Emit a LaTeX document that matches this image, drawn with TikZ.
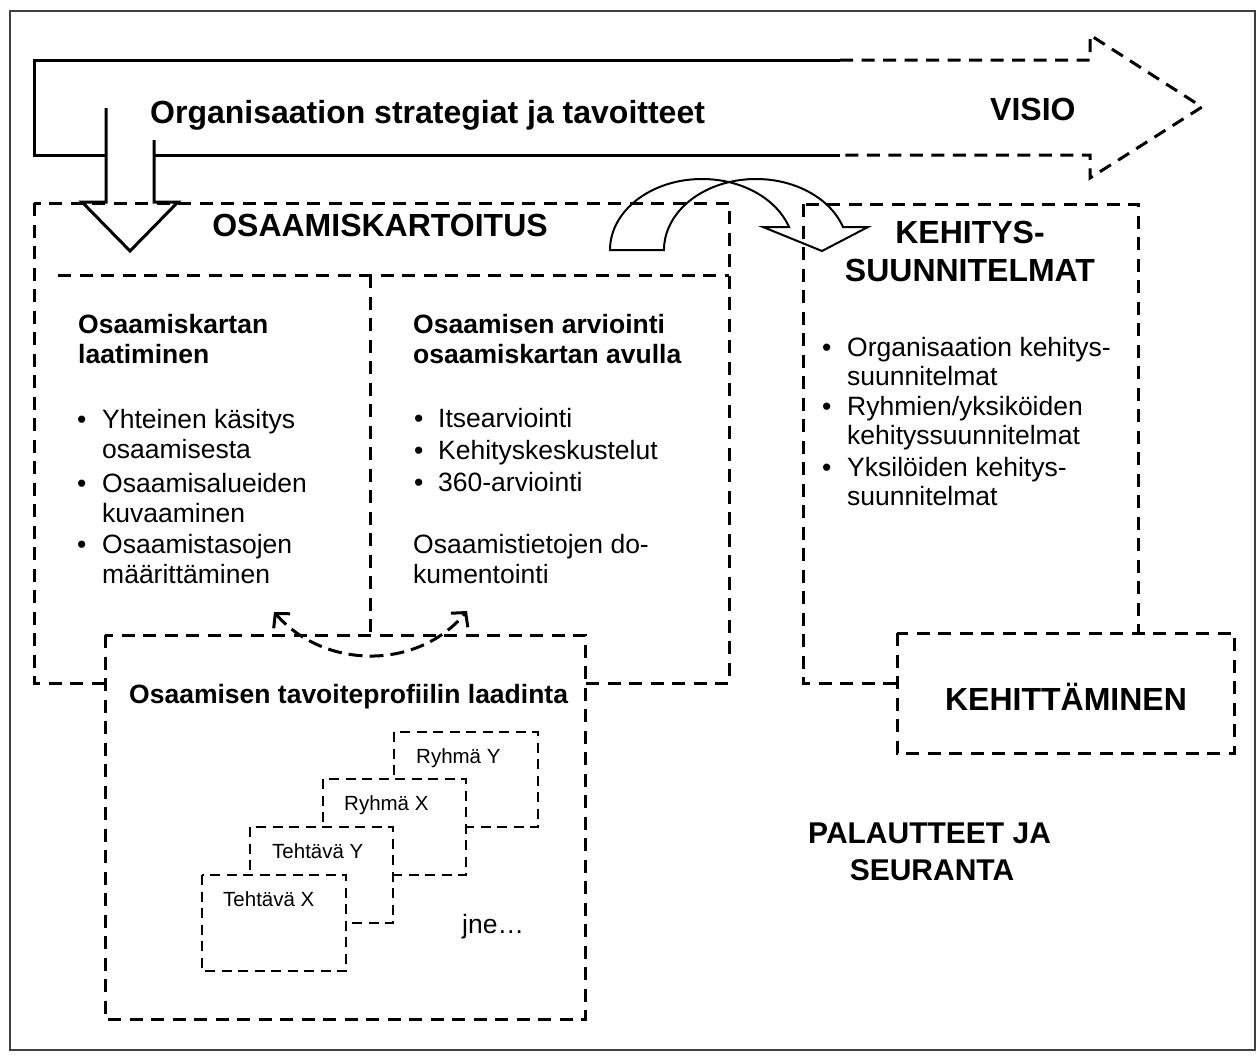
\documentclass[tikz,border=0pt]{standalone}
\usepackage{fontspec}
\setmainfont{Liberation Sans}
\usetikzlibrary{arrows.meta}
\tikzset{
 dbox/.style={draw=black, line width=3pt, dash pattern=on 13pt off 8.5pt},
 sbox/.style={draw=black, line width=2pt, dash pattern=on 10pt off 6.5pt, fill=white},
 solidline/.style={line width=3pt, line join=miter},
 txt/.style={inner sep=0pt, anchor=base west, font=\fontsize{26.5}{30}\selectfont},
 btxt/.style={inner sep=0pt, anchor=base west, font=\bfseries\fontsize{26.5}{30}\selectfont},
 big/.style={inner sep=0pt, anchor=base, font=\bfseries\fontsize{32}{36}\selectfont},
 smalltxt/.style={inner sep=0pt, anchor=base west, font=\fontsize{20.5}{24}\selectfont},
 barb/.tip={Straight Barb[length=10pt,width=22pt,line width=3pt]}
}
\begin{document}
\begin{tikzpicture}[x=1pt,y=-1pt]
\useasboundingbox (0,0) rectangle (1258,1061);
\draw[line width=1.5pt, black!75] (10,11) rectangle (1255,1050);
% big arrow
\draw[solidline] (840,60) -- (34,60) -- (34,155) -- (106,155) (154,155) -- (840,155);
\draw[dbox, line join=miter] (840,60) -- (1090,60) -- (1090,35) -- (1202,107) -- (1090,178) -- (1090,155) -- (840,155);
\node[big, anchor=base west] (strat) at (150,123) {Organisaation strategiat ja tavoitteet};
\node[big, anchor=base west] (visio) at (990,120) {VISIO};
% osaamiskartoitus box
\draw[dbox] (34,203) rectangle (729,683);
\draw[dbox] (58,275) -- (729,275);
\draw[dbox] (370,275) -- (370,635);
% down arrow
\draw[solidline] (106,108) -- (106,202) -- (82,202) -- (130,251) -- (178,202) -- (154,202) -- (154,140);
\node[big] (osk) at (380,236) {OSAAMISKARTOITUS};
% kehitys box
\draw[dbox] (803,204) rectangle (1138,683);
\draw[dbox, fill=white] (897,633) rectangle (1234,753);
\node[big] (keh1) at (970,243) {KEHITYS-};
\node[big] (keh2) at (970,281) {SUUNNITELMAT};
\node[big] (kehm) at (1066,710) {KEHITTÄMINEN};
% curved arrow
\draw[line width=2pt, line join=miter] (610,250) arc[start angle=180, end angle=341.1, x radius=92, y radius=71] -- (763,227) -- (822,251) -- (868,227) -- (843,227) arc[start angle=341.1, end angle=180, x radius=92, y radius=71] -- cycle;
% bottom box
\draw[dbox, fill=white] (105,635) rectangle (585,1019);
\node[btxt] (tav) at (129,703) {Osaamisen tavoiteprofiilin laadinta};
\draw[sbox] (394,732) rectangle (538,827);
\node[smalltxt] (ry) at (416,763) {Ryhmä Y};
\draw[sbox] (323,779) rectangle (466,875);
\node[smalltxt] (rx) at (344,810) {Ryhmä X};
\draw[sbox] (250,827) rectangle (393,923);
\node[smalltxt] (ty) at (272,858) {Tehtävä Y};
\draw[sbox] (202,875) rectangle (346,971);
\node[smalltxt] (tx) at (223,906) {Tehtävä X};
\node[txt] (jne) at (462,933) {jne…};
% small double arrow
\coordinate (la) at (274,612);
\coordinate (ra) at (467,611);
\draw[line width=3pt, dash pattern=on 14pt off 7pt, barb-barb] (la) .. controls (325,670) and (418,670) .. (ra);
% left column
\node[btxt] (l1) at (78,333) {Osaamiskartan};
\node[btxt] (l2) at (78,363) {laatiminen};
\node[txt] (lb1) at (77,428) {•};
\node[txt] (l3) at (102,428) {Yhteinen käsitys};
\node[txt] (l4) at (102,458) {osaamisesta};
\node[txt] (lb2) at (77,492) {•};
\node[txt] (l5) at (102,492) {Osaamisalueiden};
\node[txt] (l6) at (102,522) {kuvaaminen};
\node[txt] (lb3) at (77,553) {•};
\node[txt] (l7) at (102,553) {Osaamistasojen};
\node[txt] (l8) at (102,583) {määrittäminen};
% middle column
\node[btxt] (m1) at (413,333) {Osaamisen arviointi};
\node[btxt] (m2) at (413,363) {osaamiskartan avulla};
\node[txt] (mb1) at (414,427) {•};
\node[txt] (m3) at (438,427) {Itsearviointi};
\node[txt] (mb2) at (414,459) {•};
\node[txt] (m4) at (438,459) {Kehityskeskustelut};
\node[txt] (mb3) at (414,491) {•};
\node[txt] (m5) at (438,491) {360-arviointi};
\node[txt] (m6) at (413,553) {Osaamistietojen do-};
\node[txt] (m7) at (413,583) {kumentointi};
% right column
\node[txt] (rb1) at (822,356) {•};
\node[txt] (r1) at (847,356) {Organisaation kehitys-};
\node[txt] (r2) at (847,385) {suunnitelmat};
\node[txt] (rb2) at (822,415) {•};
\node[txt] (r3) at (847,415) {Ryhmien/yksiköiden};
\node[txt] (r4) at (847,444) {kehityssuunnitelmat};
\node[txt] (rb3) at (822,476) {•};
\node[txt] (r5) at (847,476) {Yksilöiden kehitys-};
\node[txt] (r6) at (847,505) {suunnitelmat};
% palautteet
\node[big, anchor=base west, font=\bfseries\fontsize{30}{34}\selectfont] (pal) at (808,843) {PALAUTTEET JA};
\node[big, font=\bfseries\fontsize{30}{34}\selectfont] (seu) at (932,880) {SEURANTA};
\end{tikzpicture}
\end{document}
